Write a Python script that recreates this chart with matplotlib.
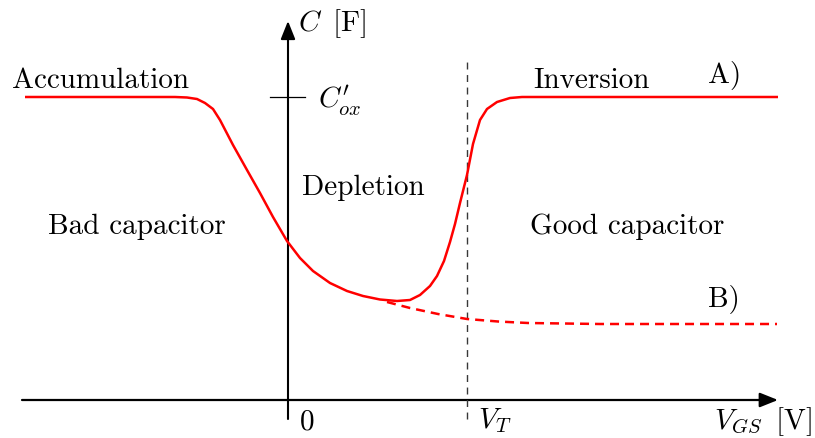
import matplotlib
matplotlib.use("Agg")
import matplotlib.pyplot as plt
from matplotlib.patches import FancyArrowPatch

plt.rcParams["mathtext.fontset"] = "cm"
plt.rcParams["font.family"] = ["cmr10", "DejaVu Serif"]
plt.rcParams["axes.unicode_minus"] = False

# Ideal MOS C-V curves (gate voltage vs. capacitance, arbitrary units)
vgs_lowf = [-2.63, -1.13, -1.01, -0.91, -0.83, -0.75, -0.68, -0.55, -0.41, -0.28,
            -0.15, -0.01, 0.12, 0.25, 0.42, 0.59, 0.75, 0.92, 1.09, 1.22,
            1.32, 1.42, 1.49, 1.56, 1.62, 1.67, 1.72, 1.79, 1.85, 1.92,
            1.99, 2.09, 2.22, 2.34, 4.90]
c_lowf = [3.03, 3.03, 3.025, 3.01, 2.97, 2.91, 2.80, 2.55, 2.30, 2.07,
          1.83, 1.59, 1.42, 1.29, 1.17, 1.09, 1.04, 1.005, 0.99, 1.00,
          1.05, 1.14, 1.24, 1.39, 1.58, 1.76, 1.97, 2.25, 2.56, 2.80,
          2.91, 2.98, 3.02, 3.03, 3.03]

vgs_highf = [0.99, 1.22, 1.50, 1.79, 2.10, 2.40, 3.12, 4.89]
c_highf = [0.98, 0.92, 0.86, 0.81, 0.785, 0.77, 0.76, 0.76]

v_threshold = 1.79
c_ox = 3.03

fig = plt.figure(figsize=(8.15, 4.39), dpi=100)
ax = fig.add_axes([0, 0, 1, 1])
ax.set_xlim(-2.88, 5.27)
ax.set_ylim(-0.38, 4.01)
ax.axis("off")

# axes with arrow heads
style = "-|>,head_length=0.55,head_width=0.22"
ax.add_patch(FancyArrowPatch((-2.66, 0), (4.90, 0), arrowstyle=style,
                             mutation_scale=20, lw=1.6, color="black",
                             shrinkA=0, shrinkB=0))
ax.add_patch(FancyArrowPatch((0, -0.19), (0, 3.79), arrowstyle=style,
                             mutation_scale=20, lw=1.5, color="black",
                             shrinkA=0, shrinkB=0))

# C'_ox tick mark
ax.plot([-0.18, 0.17], [c_ox, c_ox], color="black", lw=0.9)

# threshold voltage marker
ax.plot([v_threshold, v_threshold], [-0.19, 3.43], color="#383838", lw=1.0,
        dashes=(5, 4))

# curves
ax.plot(vgs_lowf, c_lowf, color="red", lw=1.8, solid_joinstyle="round",
        solid_capstyle="butt")
ax.plot(vgs_highf, c_highf, color="red", lw=1.8, dashes=(3.6, 2.4))

fs = 21


def px(x, y):
    return ((x - 288) / 100.0, (401 - y) / 100.0)


def label(x, y, s, **kw):
    ax.text(*px(x, y), s, fontsize=fs, ha="left", va="baseline", **kw)


label(12, 88, "Accumulation")
label(533, 88, "Inversion")
label(708, 83, "A)")
label(302, 195, "Depletion")
label(48, 234, "Bad capacitor")
label(530, 234, "Good capacitor")
label(708, 307, "B)")
label(300, 430, "0")
label(478, 428, r"$V_T$")
label(714, 429, r"$V_{GS}\,$ [V]")
label(298, 31, r"$C\,$ [F]")
label(318, 108, r"$C^{\prime}_{ox}$")

fig.savefig("out.png", dpi=100)
